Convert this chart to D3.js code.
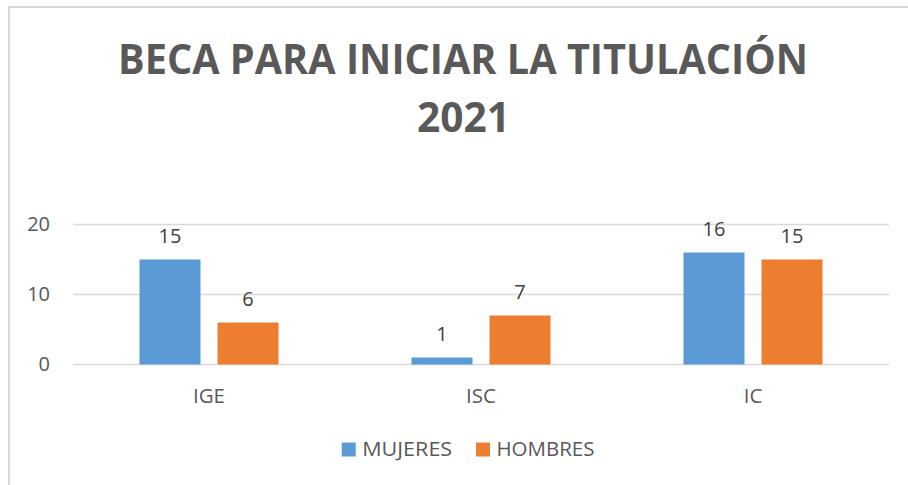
<!DOCTYPE html>
<html>
<head>
<meta charset="utf-8">
<script src="https://cdn.jsdelivr.net/npm/d3@7"></script>
<style>
  html, body { margin: 0; padding: 0; background: #fff; }
  svg { display: block; font-family: "Open Sans", "Noto Sans", sans-serif; }
</style>
</head>
<body>
<svg id="chart" width="908" height="485"></svg>
<script>
// Chart data
const categories = ["IGE", "ISC", "IC"];
const seriesNames = ["MUJERES", "HOMBRES"];
const mujeres = [15, 1, 16];
const hombres = [6, 7, 15];
const yTicks = [0, 10, 20];
const titleLines = ["BECA PARA INICIAR LA TITULACIÓN", "2021"];
const colors = ["#5b9bd5", "#ed7d31"];

const values = [mujeres, hombres];
const svg = d3.select("#chart");

// Chart frame (only top and left edges fall inside the view)
svg.append("path")
  .attr("d", "M9,485 V7 H908")
  .attr("fill", "none")
  .attr("stroke", "#d9d9d9")
  .attr("stroke-width", 2);

// Title
const titleG = svg.append("g").attr("fill", "#595959").attr("font-weight", 700)
  .attr("text-anchor", "middle");
titleG.append("text").attr("x", 463).attr("y", 73.5)
  .attr("font-size", 42)
  .attr("textLength", 690).attr("lengthAdjust", "spacingAndGlyphs")
  .text(titleLines[0]);
titleG.append("text").attr("x", 463.5).attr("y", 131.7)
  .attr("font-size", 42)
  .attr("textLength", 93).attr("lengthAdjust", "spacingAndGlyphs")
  .text(titleLines[1]);

// Scales
const x0 = d3.scaleBand().domain(categories).range([73, 889]).padding(0);
const x1 = d3.scaleBand().domain(seriesNames).range([-69.5, 69.5]).paddingInner(0.218);
const y = d3.scaleLinear().domain([0, 20]).range([364.5, 224.5]);

// Gridlines
svg.append("g").selectAll("line").data(yTicks).join("line")
  .attr("x1", 73).attr("x2", 889)
  .attr("y1", d => y(d)).attr("y2", d => y(d))
  .attr("stroke", "#d9d9d9").attr("stroke-width", 1.5);

// Y axis labels
const yAxis = svg.append("g").attr("transform", "translate(73,0)")
  .call(d3.axisLeft(y).tickValues(yTicks).tickSize(0).tickPadding(23));
yAxis.select(".domain").remove();
yAxis.selectAll("text").attr("font-size", 20).attr("fill", "#595959")
  .attr("font-family", "'Open Sans', sans-serif");

// Bars
const groups = svg.append("g").selectAll("g").data(categories).join("g")
  .attr("transform", d => `translate(${x0(d) + x0.bandwidth() / 2},0)`);

groups.each(function(cat, ci) {
  const g = d3.select(this);
  seriesNames.forEach((s, si) => {
    const v = values[si][ci];
    g.append("rect")
      .attr("x", x1(s)).attr("width", x1.bandwidth())
      .attr("y", y(v)).attr("height", y(0) - y(v))
      .attr("fill", colors[si]);
    g.append("text")
      .attr("x", x1(s) + x1.bandwidth() / 2)
      .attr("y", y(v) - 17)
      .attr("text-anchor", "middle")
      .attr("font-size", 20).attr("fill", "#404040")
      .text(v);
  });
});

// Category labels
svg.append("g").selectAll("text").data(categories).join("text")
  .attr("x", d => x0(d) + x0.bandwidth() / 2)
  .attr("y", 403)
  .attr("text-anchor", "middle")
  .attr("font-size", 20.5).attr("fill", "#595959")
  .text(d => d);

// Legend
const legendX = [341.7, 476];
const legendLen = [90, 98];
const legend = svg.append("g").selectAll("g").data(seriesNames).join("g")
  .attr("transform", (d, i) => `translate(${legendX[i]},0)`);
legend.append("rect").attr("x", 0).attr("y", 442.5).attr("width", 14).attr("height", 14)
  .attr("fill", (d, i) => colors[i]);
legend.append("text").attr("x", 20.5).attr("y", 456)
  .attr("font-size", 20.5).attr("fill", "#595959")
  .attr("textLength", (d, i) => legendLen[i]).attr("lengthAdjust", "spacingAndGlyphs")
  .text(d => d);
</script>
</body>
</html>
